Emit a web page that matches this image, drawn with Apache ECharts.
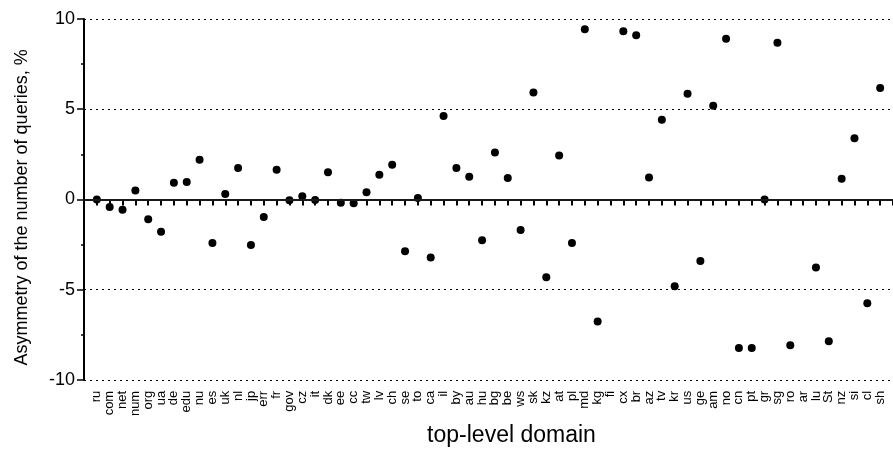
<!DOCTYPE html>
<html>
<head>
<meta charset="utf-8">
<title>Asymmetry by domain</title>
<script src="https://cdn.jsdelivr.net/npm/echarts@6/dist/echarts.min.js"></script>
<style>
	html, body { margin: 0; padding: 0; background: #fff; }
	#asym { width: 893px; height: 452px; }
</style>
</head>
<body>
<div id="asym"></div>
<script>
// top-level domains, in plot order
var domains = ['ru','com','net','num','org','ua','de','edu','nu','es','uk','nl','jp','err','fr','gov','cz','it','dk','ee',
	'cc','tw','lv','ch','se','to','ca','il','by','au','hu','bg','be','ws','sk','kz','at','pl','md','kg',
	'fi','cx','br','az','tv','kr','us','ge','am','no','cn','pt','gr','sg','ro','ar','lu','St','nz','si','cl','sh'];
// asymmetry, % ('-' = no point drawn)
var asymmetry = [0, -0.42, -0.57, 0.5, -1.1, -1.79, 0.93, 0.97, 2.2, -2.42, 0.3, 1.74, -2.53, -0.97, 1.65, -0.04, 0.17, -0.03, 1.5, -0.18,
	-0.22, 0.4, 1.37, 1.92, -2.87, 0.08, -3.22, 4.62, 1.74, 1.26, -2.27, 2.6, 1.19, -1.7, 5.92, -4.32, 2.44, -2.42, 9.43, -6.77,
	'-', 9.32, 9.1, 1.21, 4.42, -4.81, 5.86, -3.41, 5.19, 8.9, -8.24, -8.24, 0, 8.68, -8.08, '-', -3.77, -7.86, 1.14, 3.39, -5.75, 6.18];
var yTicks = [-10, -5, 0, 5, 10];

var font = "'Liberation Sans', Arial, Helvetica, sans-serif";

// one empty slot each side so the first dot sits a step away from the y axis
var cats = [''].concat(domains, ['']);
var pts = ['-'].concat(asymmetry, ['-']);

var myChart = echarts.init(document.getElementById('asym'));
myChart.setOption({
	animation: false,
	grid: { left: 84, right: -5, top: 19, bottom: 68 },
	xAxis: {
		type: 'category',
		data: cats,
		boundaryGap: false,
		name: 'top-level domain',
		nameLocation: 'middle',
		nameGap: 43,
		nameTextStyle: { color: '#000', fontSize: 23, fontFamily: font, padding: [0, 0, 0, 46] },
		axisLine: { lineStyle: { color: '#000', width: 2 } },
		axisTick: { show: true, interval: 0, length: 6, lineStyle: { color: '#000', width: 2 } },
		axisLabel: { interval: 0, rotate: 90, margin: 11, color: '#000', fontSize: 13, fontFamily: font },
		splitLine: { show: false }
	},
	yAxis: {
		type: 'value',
		min: yTicks[0],
		max: yTicks[yTicks.length - 1],
		interval: 5,
		name: 'Asymmetry of the number of queries, %',
		nameLocation: 'middle',
		nameGap: 53,
		nameTextStyle: { color: '#000', fontSize: 18, fontFamily: font, padding: [0, 16, 0, 0] },
		axisLine: { show: true, lineStyle: { color: '#000', width: 2 } },
		axisTick: { show: true, length: 7, lineStyle: { color: '#000', width: 1.5 } },
		minorTick: { show: true, splitNumber: 2, length: 3, lineStyle: { color: '#000', width: 1.5 } },
		axisLabel: { margin: 9, color: '#000', fontSize: 18, fontFamily: font },
		splitLine: { show: true, lineStyle: { color: '#000', width: 1, type: [2, 4] } }
	},
	series: [{
		type: 'scatter',
		data: pts,
		symbol: 'circle',
		symbolSize: 8,
		itemStyle: { color: '#000', opacity: 1 },
		markLine: {
			silent: true,
			symbol: 'none',
			label: { show: false },
			lineStyle: { color: '#222', type: 'solid', width: 1.5 },
			data: [{ yAxis: 0 }]
		},
		z: 3
	}]
});
</script>
</body>
</html>
